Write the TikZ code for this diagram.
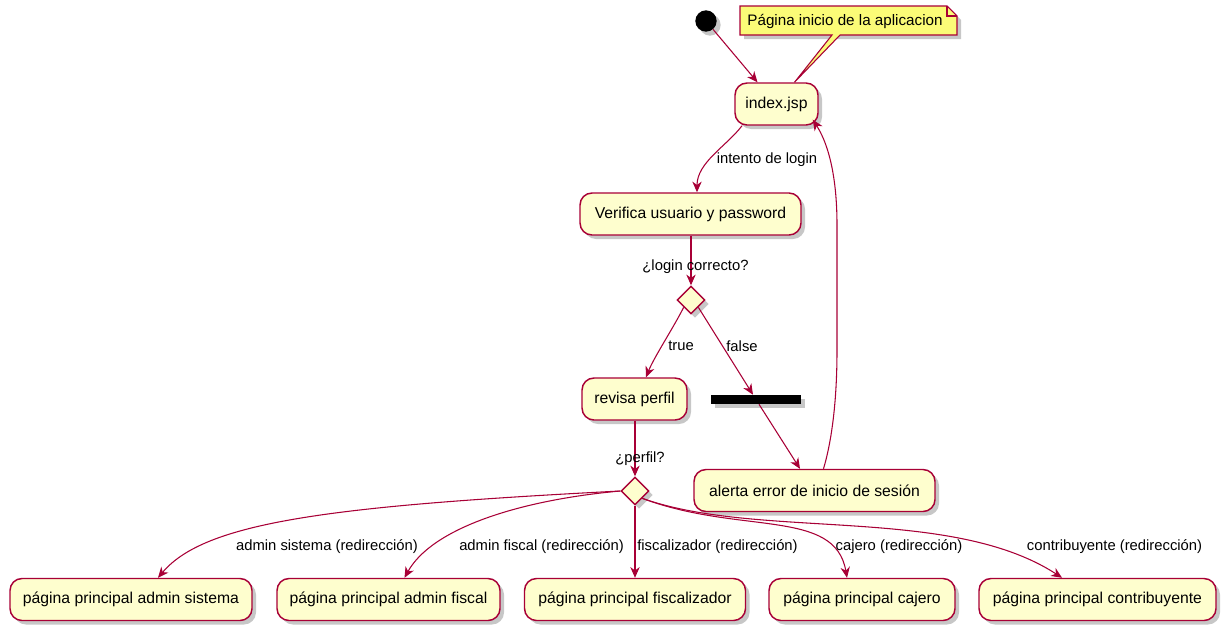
\documentclass[tikz,border=0pt]{standalone}
\usepackage{fontspec}
\setmainfont{Liberation Sans}
\usetikzlibrary{shapes.geometric,shadows,calc,arrows.meta}
\definecolor{actfill}{HTML}{FEFECE}
\definecolor{actline}{HTML}{A80036}
\definecolor{notefill}{HTML}{FBFB77}
\tikzset{
  shade3/.style={drop shadow={shadow xshift=3pt,shadow yshift=-3pt,fill=black!55,opacity=0.4}},
  activity/.style={draw=actline,fill=actfill,line width=1.1pt,rounded corners=9pt,
    minimum height=31.5pt,inner sep=0pt,shade3,font=\fontsize{11.8}{14}\selectfont},
  choice/.style={diamond,aspect=1,draw=actline,fill=actfill,line width=1.1pt,
    minimum width=21pt,minimum height=21pt,inner sep=0pt,shade3},
  lbl/.style={inner sep=1pt,font=\fontsize{11.1}{13}\selectfont},
  arr/.style={draw=actline,line width=0.8pt,-{Stealth[length=8pt,width=7pt,inset=2.5pt]}},
}
\begin{document}
\begin{tikzpicture}[x=0.75pt,y=-0.75pt]
\useasboundingbox (0,0) rectangle (1221,625);

% start point
\node[circle,fill=black,minimum size=16pt,inner sep=0pt,shade3] (start) at (706,21) {};

% activities
\node[activity,minimum width=62.25pt] (index) at (776.5,104) {index.jsp};
\node[activity,minimum width=165.75pt] (verif) at (690.5,214) {Verifica usuario y password};
\node[choice] (d1) at (691,300) {};
\node[activity,minimum width=78.75pt] (revisa) at (634.5,399) {revisa perfil};
\node[fill=black,minimum width=67.5pt,minimum height=6.75pt,inner sep=0pt,shade3] (bar) at (756,399.5) {};
\node[activity,minimum width=180.75pt] (alerta) at (814.5,490.5) {alerta error de inicio de sesión};
\node[choice] (d2) at (635,491) {};

\node[activity,minimum width=181.5pt] (sis) at (131,599.5) {página principal admin sistema};
\node[activity,minimum width=167.25pt] (fis) at (388.5,599.5) {página principal admin fiscal};
\node[activity,minimum width=165.75pt] (fzr) at (635,599.5) {página principal fiscalizador};
\node[activity,minimum width=139.5pt] (caj) at (862,599.5) {página principal cajero};
\node[activity,minimum width=177.75pt] (con) at (1097.5,599.5) {página principal contribuyente};

% note with folded corner and tail to index.jsp
\coordinate (tail) at ($(index.north)+(18,0)$);
\fill[black!55,opacity=0.4] (744,10) -- (951,10) -- (961,20) -- (961,39) -- (744,39) -- cycle;
\filldraw[draw=actline,fill=notefill,line width=0.8pt]
  (740,6) -- (947,6) -- (957,16) -- (957,35) -- (840,35) -- (tail) -- (832,35) -- (740,35) -- cycle;
\draw[actline,line width=0.8pt] (947,6) -- (947,16) -- (957,16);
\node[font=\fontsize{11.4}{13}\selectfont,inner sep=0pt] (note) at (845,21) {Página inicio de la aplicacion};

% connectors
\draw[arr] (start) -- ($(index.north)+(-19,0)$);
\draw[arr] ($(index.south)+(-34.5,0)$) .. controls +(-15,20) and +(0,-30) .. ($(verif.north)+(6.5,0)$);
\draw[arr] (verif.south -| d1.north) -- (d1.north);
\draw[arr] (d1.south west) .. controls +(-10,20) and +(8,-20) .. ($(revisa.north)+(11.5,0)$);
\draw[arr] (d1.south east) -- ($(bar.north)+(-3,0)$);
\draw[arr] ($(bar.south)+(3,0)$) -- ($(alerta.north)+(-14.5,0)$);
\draw[arr] ($(alerta.north)+(9,0)$) .. controls (832,440) and (837,400) .. (837,350)
  -- (837,225) .. controls (837,170) and (826,140) .. ($(index.south east)+(-6,-6)$);
\draw[arr] (revisa.south -| d2.north) -- (d2.north);
\draw[arr] (d2.west) .. controls (330,506) and (205,522) .. ($(sis.north)+(27,0)$);
\draw[arr] (d2.west) .. controls (520,500) and (432,528) .. ($(fis.north)+(16,0)$);
\draw[arr] (d2.south) -- (fzr.north);
\draw[arr] (d2.south east) .. controls (740,535) and (835,508) .. ($(caj.north)+(-15,0)$);
\draw[arr] (d2.south east) .. controls (760,540) and (950,505) .. ($(con.north)+(-35.5,0)$);

% connector labels
\node[lbl] (l1) at (767,160) {intento de login};
\node[lbl] (l2) at (695.5,267) {¿login correcto?};
\node[lbl] (l3) at (681,346) {true};
\node[lbl] (l4) at (742,346) {false};
\node[lbl] (l5) at (640,459) {¿perfil?};
\node[lbl] (l6) at (327,547) {admin sistema (redirección)};
\node[lbl] (l7) at (541.5,547) {admin fiscal (redirección)};
\node[lbl] (l8) at (717.5,547) {fiscalizador (redirección)};
\node[lbl] (l9) at (899,547) {cajero (redirección)};
\node[lbl] (l10) at (1114.5,547) {contribuyente (redirección)};
\end{tikzpicture}
\end{document}
